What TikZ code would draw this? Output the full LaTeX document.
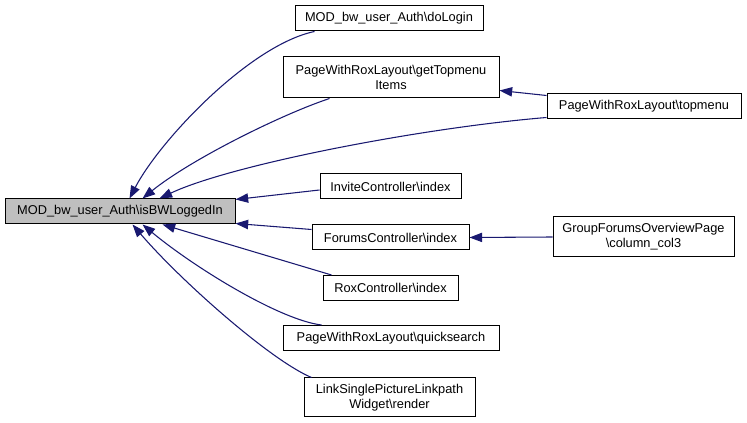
\documentclass[tikz,border=0pt]{standalone}
\usepackage{fontspec}
\setmainfont{Liberation Sans}
\usetikzlibrary{arrows.meta,calc}
\definecolor{edgeblue}{HTML}{191970}
\definecolor{maingray}{HTML}{BFBFBF}
\begin{document}
\begin{tikzpicture}[x=0.75pt,y=-0.75pt,
  box/.style 2 args={draw=black,line width=0.75pt,fill=white,inner sep=0pt,
    minimum width=#1*0.75pt,minimum height=#2*0.75pt,align=center,
    font=\fontsize{9.6}{11.25}\selectfont},
  edge/.style={draw=edgeblue,line width=0.8pt,
    -{Triangle[length=9.5pt,width=7pt,fill=edgeblue]}}]
\useasboundingbox (0,0) rectangle (747,423);
\node[box={230}{25},fill=maingray] (main) at (120,211.5) {MOD\_bw\_user\_Auth\textbackslash isBWLoggedIn};
\node[box={188}{25}] (doLogin) at (389,18.5) {MOD\_bw\_user\_Auth\textbackslash doLogin};
\node[box={216}{41}] (gettop) at (391,77.5) {PageWithRoxLayout\textbackslash getTopmenu\\Items};
\node[box={194}{25}] (topmenu) at (644,106.5) {PageWithRoxLayout\textbackslash topmenu};
\node[box={141}{25}] (invite) at (390.5,186.5) {InviteController\textbackslash index};
\node[box={157}{25}] (forums) at (390.5,237.5) {ForumsController\textbackslash index};
\node[box={181}{40}] (group) at (643.5,237) {GroupForumsOverviewPage\\\textbackslash column\_col3};
\node[box={135}{25}] (rox) at (390.5,288) {RoxController\textbackslash index};
\node[box={216}{25}] (quick) at (391,338) {PageWithRoxLayout\textbackslash quicksearch};
\node[box={171}{39}] (link) at (389.5,397.5) {LinkSinglePictureLinkpath\\Widget\textbackslash render};
\draw[edge] ($(doLogin.south west)+(20,0)$) .. controls (250,45) and (160,140) .. ($(main.north west)+(125,0)$);
\draw[edge] ($(gettop.south west)+(47,0)$) .. controls (280,115) and (190,160) .. ($(main.north west)+(138,0)$);
\draw[edge] ($(topmenu.south west)+(0,-2)$) .. controls (420,128) and (230,165) .. ($(main.north west)+(155,0)$);
\draw[edge] ($(invite.west)+(0,3.5)$) -- ($(main.north east)+(0,1)$);
\draw[edge] ($(forums.north west)+(0,5)$) -- ($(main.south east)+(0,-1)$);
\draw[edge] ($(rox.north west)+(9,0)$) -- ($(main.south west)+(158,0)$);
\draw[edge] ($(quick.north west)+(39,0)$) .. controls (280,320) and (195,268) .. ($(main.south west)+(138,0)$);
\draw[edge] ($(link.north west)+(8,0)$) .. controls (270,360) and (180,280) .. ($(main.south west)+(128,0)$);
\draw[edge] ($(topmenu.north west)+(0,2)$) -- ($(gettop.east)+(0,13)$);
\draw[edge] (group.west) -- (forums.east);
\end{tikzpicture}
\end{document}
